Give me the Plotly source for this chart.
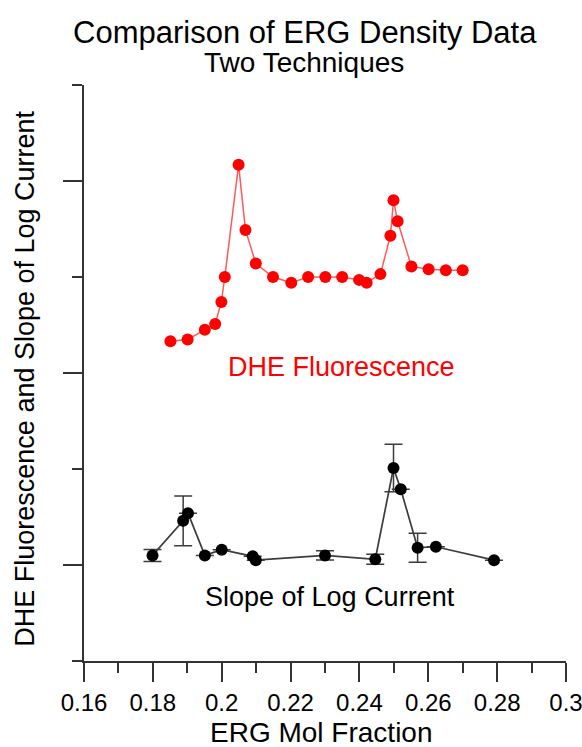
import plotly.graph_objects as go

# DHE Fluorescence series (red)
dhe_x = [0.1851, 0.1901, 0.1951, 0.1981, 0.1999, 0.2009, 0.2049, 0.2069, 0.2099, 0.2149,
         0.2202, 0.2251, 0.2301, 0.2350, 0.2399, 0.2421, 0.2461, 0.2490, 0.2499, 0.2511,
         0.2551, 0.2601, 0.2651, 0.2700]
dhe_y = [3.33, 3.35, 3.45, 3.51, 3.74, 4.00, 5.17, 4.49, 4.14, 4.00,
         3.94, 4.00, 4.00, 4.00, 3.97, 3.94, 4.03, 4.43, 4.80, 4.58,
         4.11, 4.08, 4.07, 4.07]

# Slope of Log Current series (black)
slope_x = [0.1799, 0.1888, 0.1902, 0.1951, 0.2000, 0.2090, 0.2099, 0.2300, 0.2446, 0.2499,
           0.2520, 0.2569, 0.2622, 0.2791]
slope_y = [1.10, 1.46, 1.54, 1.10, 1.16, 1.09, 1.05, 1.10, 1.06, 2.01,
           1.79, 1.18, 1.19, 1.05]
slope_err = [0.0625, 0.26, 0, 0, 0, 0, 0, 0.049, 0.052, 0.248,
             0, 0.151, 0, 0]

x_ticks = [0.16, 0.18, 0.20, 0.22, 0.24, 0.26, 0.28, 0.30]
x_ticklabels = ["0.16", "0.18", "0.2", "0.22", "0.24", "0.26", "0.28", "0.3"]

FONT = "Liberation Sans, Arial, sans-serif"

fig = go.Figure()
fig.add_trace(go.Scatter(
    x=dhe_x, y=dhe_y, mode="lines+markers",
    line=dict(color="rgba(255,60,60,0.85)", width=1.5),
    marker=dict(color="#ff0000", size=12),
    showlegend=False, cliponaxis=False))
fig.add_trace(go.Scatter(
    x=slope_x, y=slope_y, mode="lines+markers",
    line=dict(color="#3c3c3c", width=1.7),
    marker=dict(color="#000000", size=12),
    error_y=dict(type="data", array=slope_err, visible=True,
                 color="#3c3c3c", thickness=1.5, width=9),
    showlegend=False, cliponaxis=False))

fig.update_layout(
    width=582, height=747,
    margin=dict(l=84, r=16, t=85, b=86),
    paper_bgcolor="white", plot_bgcolor="white",
    font=dict(family=FONT, color="black"),
    xaxis=dict(
        range=[0.16, 0.30], tickvals=x_ticks, ticktext=x_ticklabels,
        ticks="outside", ticklen=19, tickwidth=1.5, tickcolor="#333",
        showline=True, linecolor="#333", linewidth=1.5, automargin=False,
        showgrid=False, zeroline=False, ticklabeloverflow="allow",
        tickfont=dict(size=24, family=FONT),
        minor=dict(tickvals=[0.17, 0.19, 0.21, 0.23, 0.25, 0.27, 0.29],
                   ticks="outside", ticklen=10, tickwidth=1.5, tickcolor="#333",
                   showgrid=False),
    ),
    yaxis=dict(
        range=[0, 6], tickvals=[1, 3, 5], showticklabels=False,
        ticks="outside", ticklen=19, tickwidth=1.5, tickcolor="#333",
        showline=True, linecolor="#333", linewidth=1.5, automargin=False,
        showgrid=False, zeroline=False,
        minor=dict(tickvals=[0, 2, 4, 6], ticks="outside", ticklen=10,
                   tickwidth=1.5, tickcolor="#333", showgrid=False),
    ),
    annotations=[
        dict(text="Comparison of ERG Density Data", xref="paper", yref="paper",
             x=0.458, y=1.0903, showarrow=False, xanchor="center", yanchor="middle",
             font=dict(size=31, family=FONT, color="black")),
        dict(text="Two Techniques", xref="paper", yref="paper",
             x=0.456, y=1.0385, showarrow=False, xanchor="center", yanchor="middle",
             font=dict(size=28, family=FONT, color="black")),
        dict(text="DHE Fluorescence and Slope of Log Current", xref="paper", yref="paper",
             x=-0.123, y=0.4896, showarrow=False, textangle=-90,
             xanchor="center", yanchor="middle",
             font=dict(size=27, family=FONT, color="black")),
        dict(text="ERG Mol Fraction", xref="paper", yref="paper",
             x=0.4935, y=-0.124, showarrow=False, xanchor="center", yanchor="middle",
             font=dict(size=28, family=FONT, color="black")),
        dict(text="DHE Fluorescence", xref="x", yref="y",
             x=0.2348, y=3.0625, showarrow=False, xanchor="center", yanchor="middle",
             font=dict(size=27, family=FONT, color="#ff0000")),
        dict(text="Slope of Log Current", xref="x", yref="y",
             x=0.2314, y=0.667, showarrow=False, xanchor="center", yanchor="middle",
             font=dict(size=27, family=FONT, color="black")),
    ],
)

fig.write_html("out.html")
